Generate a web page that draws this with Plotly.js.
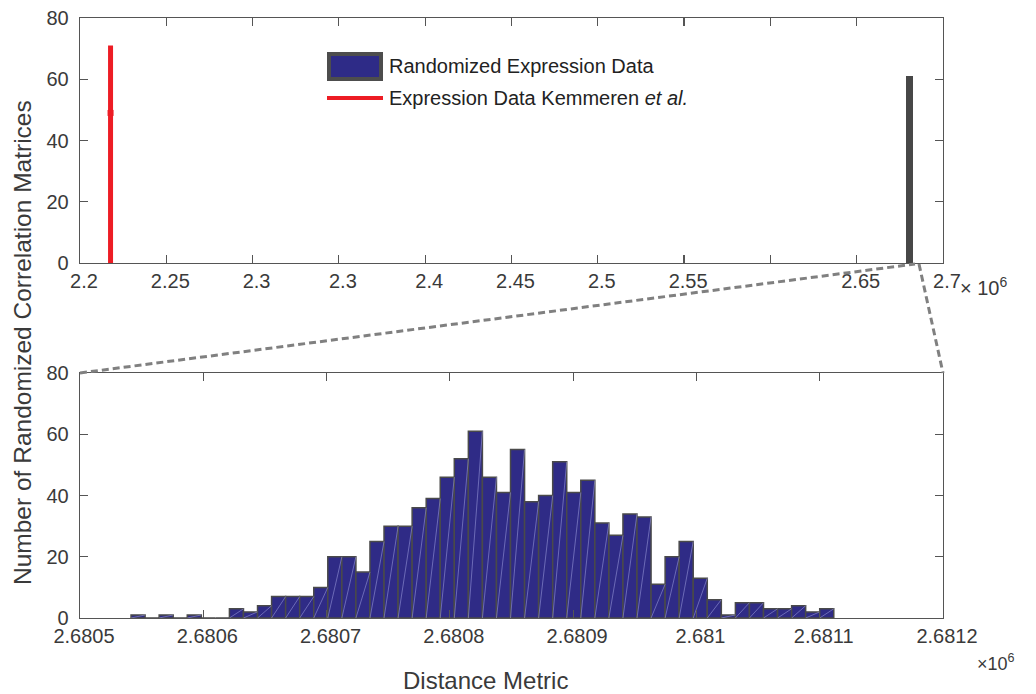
<!DOCTYPE html>
<html>
<head>
<meta charset="utf-8">
<script src="https://cdn.plot.ly/plotly-3.0.1.min.js"></script>
<style>html,body{margin:0;padding:0;background:#fff;}#chart{width:1036px;height:694px;}</style>
</head>
<body>
<div id="chart"></div>
<script>
// ---- data ----
var binCenters = [2680547.1,2680558.5,2680569.9,2680581.3,2680592.7,2680604.1,2680615.5,2680626.9,2680638.3,2680649.7,
  2680661.1,2680672.5,2680683.9,2680695.3,2680706.7,2680718.1,2680729.5,2680740.9,2680752.3,2680763.7,
  2680775.1,2680786.5,2680797.9,2680809.3,2680820.7,2680832.1,2680843.5,2680854.9,2680866.3,2680877.7,
  2680889.1,2680900.5,2680911.9,2680923.3,2680934.7,2680946.1,2680957.5,2680968.9,2680980.3,2680991.7,
  2681003.1,2681014.5,2681025.9,2681037.3,2681048.7,2681060.1,2681071.5,2681082.9,2681094.3,2681105.7];
var binWidth = 11.4;
var counts = [1,0,1,0,1,0,0,3,2,4,
  7,7,7,10,20,20,15,25,30,30,
  36,39,46,52,61,46,41,55,38,40,
  51,41,45,31,27,34,33,11,20,25,
  13,6,1,5,5,3,3,4,2,3];
var kemmerenX = [2217700];
var kemmerenY = [71];
var kemmerenMid = [49];
var topTickVals = [2200000,2250000,2300000,2350000,2400000,2450000,2500000,2550000,2600000,2650000,2700000];
var topTickText = ["2.2","2.25","2.3","2.3","2.4","2.45","2.5","2.55","","2.65","2.7"];
var botTickVals = [2680500,2680600,2680700,2680800,2680900,2681000,2681100,2681200];
var botTickText = ["2.6805","2.6806","2.6807","2.6808","2.6809","2.681","2.6811","2.6812"];
var yTickVals = [0,20,40,60,80];

// ---- derived ----
var hx = [], hy = [];
for (var i = 0; i < binCenters.length; i++) {
  if (counts[i] > 0) {
    hx.push(binCenters[i] - binWidth/2, binCenters[i] + binWidth/2, null);
    hy.push(0, counts[i], null);
  }
}
var distCenter = (binCenters[0] + binCenters[binCenters.length-1]) / 2;
var distMax = Math.max.apply(null, counts);

var FONT = "Liberation Sans, Arial, Helvetica, sans-serif";
var TXT = "#3a3a3a";
var AX = "#555555";

var traces = [
  {type:'bar', x:binCenters, y:counts, width:binWidth, xaxis:'x2', yaxis:'y2',
   marker:{color:'#2f2b86', line:{color:'#4a4a4a', width:1.5}}, hoverinfo:'skip', showlegend:false},
  {type:'scatter', mode:'lines', x:hx, y:hy, xaxis:'x2', yaxis:'y2',
   line:{color:'rgba(150,150,215,0.75)', width:0.8}, hoverinfo:'skip', showlegend:false},
  {type:'bar', x:[distCenter], y:[distMax], width:4000, xaxis:'x', yaxis:'y',
   marker:{color:'#474747', line:{width:0}}, hoverinfo:'skip', showlegend:false},
  {type:'scatter', mode:'lines', x:[kemmerenX[0], kemmerenX[0]], y:[0, kemmerenY[0]], xaxis:'x', yaxis:'y',
   line:{color:'#ed1c24', width:5}, hoverinfo:'skip', showlegend:false},
  {type:'scatter', mode:'markers', x:kemmerenX, y:kemmerenMid, xaxis:'x', yaxis:'y',
   marker:{color:'#ed1c24', symbol:'square', size:6}, hoverinfo:'skip', showlegend:false}
];

function axBase(extra) {
  var a = {showline:true, mirror:'ticks', linecolor:AX, linewidth:1.3, ticks:'inside', ticklen:8,
    tickcolor:AX, tickwidth:1.2, showgrid:false, zeroline:false,
    tickfont:{family:FONT, size:20, color:TXT}};
  for (var k in extra) a[k] = extra[k];
  return a;
}

function px(x){ return (x-80)/863; }
function py(y){ return (618-y)/600; }

var layout = {
  width:1036, height:694,
  margin:{l:80, r:93, t:18, b:76},
  paper_bgcolor:'#ffffff', plot_bgcolor:'#ffffff',
  showlegend:false, bargap:0,
  xaxis: axBase({domain:[0,1], range:[2200000,2700000], tickmode:'array', tickvals:topTickVals, ticktext:topTickText, anchor:'y', ticklabelshift:4}),
  yaxis: axBase({domain:[py(263),1], range:[0,80], tickmode:'array', tickvals:yTickVals, anchor:'x', ticklabelstandoff:6}),
  xaxis2: axBase({domain:[0,1], range:[2680500,2681200], tickmode:'array', tickvals:botTickVals, ticktext:botTickText, anchor:'y2', ticklabelshift:4}),
  yaxis2: axBase({domain:[0,py(373)], range:[0,80], tickmode:'array', tickvals:yTickVals, anchor:'x2', ticklabelstandoff:6}),
  shapes:[
    {type:'line', xref:'paper', yref:'paper', x0:0, y0:py(373), x1:px(915), y1:py(264),
     line:{color:'#808080', width:3, dash:'7px,4px'}},
    {type:'line', xref:'paper', yref:'paper', x0:px(919), y0:py(264), x1:1, y1:py(373),
     line:{color:'#808080', width:3, dash:'7px,4px'}},
    {type:'rect', xref:'paper', yref:'paper', x0:px(329), x1:px(381), y0:py(79), y1:py(54),
     fillcolor:'#2e2b87', line:{color:'#4d4d4d', width:4}},
    {type:'line', xref:'paper', yref:'paper', x0:px(327), x1:px(383), y0:py(98), y1:py(98),
     line:{color:'#ed1c24', width:4}}
  ],
  annotations:[
    {xref:'paper', yref:'paper', x:px(387), y:py(66), xanchor:'left', yanchor:'middle', showarrow:false,
     text:'Randomized Expression Data', font:{family:FONT, size:20, color:'#222'}},
    {xref:'paper', yref:'paper', x:px(387), y:py(98), xanchor:'left', yanchor:'middle', showarrow:false,
     text:'Expression Data Kemmeren <i>et al.</i>', font:{family:FONT, size:20, color:'#222'}},
    {xref:'paper', yref:'paper', x:px(958), y:py(286), xanchor:'left', yanchor:'middle', showarrow:false,
     text:'× 10<sup>6</sup>', font:{family:FONT, size:20, color:TXT}},
    {xref:'paper', yref:'paper', x:px(996), y:py(662), xanchor:'center', yanchor:'middle', showarrow:false,
     text:'×10<sup>6</sup>', font:{family:FONT, size:18, color:TXT}},
    {xref:'paper', yref:'paper', x:px(485), y:py(680), xanchor:'center', yanchor:'middle', showarrow:false,
     text:'Distance Metric', font:{family:FONT, size:24, color:TXT}},
    {xref:'paper', yref:'paper', x:px(22), y:py(343), xanchor:'center', yanchor:'middle', showarrow:false,
     textangle:-90, text:'Number of Randomized Correlation Matrices', font:{family:FONT, size:24.5, color:TXT}}
  ]
};

Plotly.newPlot('chart', traces, layout, {staticPlot:true, displayModeBar:false});
</script>
</body>
</html>
